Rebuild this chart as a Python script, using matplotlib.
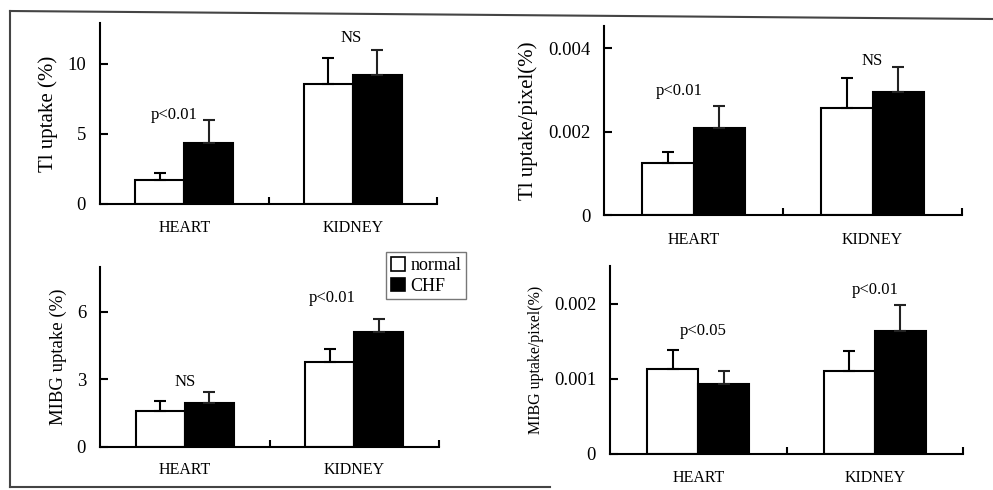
import numpy as np
import matplotlib
matplotlib.use("Agg")
import matplotlib.pyplot as plt
from matplotlib.patches import Patch
from matplotlib.lines import Line2D

plt.rcParams['font.family'] = ['Liberation Serif', 'DejaVu Serif']

# Datos
organos = ['HEART', 'KIDNEY']
grupos = ['normal', 'CHF']

tl_normal = [1.71, 8.55]
tl_normal_sd = [0.53, 1.85]
tl_chf = [4.33, 9.2]
tl_chf_sd = [1.62, 1.75]

tlpix_normal = [0.00124, 0.00256]
tlpix_normal_sd = [0.00028, 0.00073]
tlpix_chf = [0.00208, 0.00295]
tlpix_chf_sd = [0.00053, 0.0006]

mibg_normal = [1.6, 3.75]
mibg_normal_sd = [0.44, 0.58]
mibg_chf = [1.93, 5.11]
mibg_chf_sd = [0.5, 0.58]

mibgpix_normal = [0.00113, 0.0011]
mibgpix_normal_sd = [0.00025, 0.00027]
mibgpix_chf = [0.00093, 0.00164]
mibgpix_chf_sd = [0.00018, 0.00035]

# anotaciones: (texto, x, y)
tl_notas = [('p<0.01', 0.44, 6.36), ('NS', 1.49, 11.86)]
tlpix_notas = [('p<0.01', 0.42, 0.00298), ('NS', 1.5, 0.00369)]
mibg_notas = [('NS', 0.5, 2.89), ('p<0.01', 1.37, 6.6)]
mibgpix_notas = [('p<0.05', 0.53, 0.00164), ('p<0.01', 1.5, 0.00219)]

fig = plt.figure(figsize=(9.93, 4.9), dpi=100)

paneles = [
    # rect, normal, sd, chf, sd, ylim, yticks, ticklabels, ylabel, tamaño etiqueta, notas
    ([0.1007, 0.5837, 0.3394, 0.3694], tl_normal, tl_normal_sd, tl_chf, tl_chf_sd,
     12.9, [0, 5, 10], ['0', '5', '10'], 'Tl uptake (%)', 15, tl_notas),
    ([0.6083, 0.5612, 0.3605, 0.3857], tlpix_normal, tlpix_normal_sd, tlpix_chf, tlpix_chf_sd,
     0.00453, [0, 0.002, 0.004], ['0', '0.002', '0.004'], 'Tl uptake/pixel(%)', 15, tlpix_notas),
    ([0.1007, 0.0884, 0.3414, 0.3673], mibg_normal, mibg_normal_sd, mibg_chf, mibg_chf_sd,
     8.0, [0, 3, 6], ['0', '3', '6'], 'MIBG uptake (%)', 13.5, mibg_notas),
    ([0.6143, 0.0735, 0.3555, 0.3843], mibgpix_normal, mibgpix_normal_sd, mibgpix_chf, mibgpix_chf_sd,
     0.00251, [0, 0.001, 0.002], ['0', '0.001', '0.002'], 'MIBG uptake/pixel(%)', 11.5, mibgpix_notas),
]

centros = np.array([0.5, 1.5])
ancho = 0.29

for rect, vn, sn, vc, sc, ytop, yt, ytl, ylab, lsize, notas in paneles:
    ax = fig.add_axes(rect)
    ax.bar(centros - ancho / 2, vn, ancho, color='white', edgecolor='black', linewidth=1.5,
           yerr=[np.zeros(2), sn], error_kw=dict(ecolor='black', elinewidth=1.5, capsize=4, capthick=1.5))
    ax.bar(centros + ancho / 2, vc, ancho, color='black', edgecolor='black', linewidth=1.5,
           yerr=[np.zeros(2), sc], error_kw=dict(ecolor='#222222', elinewidth=1.5, capsize=4, capthick=1.5))
    ax.set_xlim(0, 2)
    ax.set_ylim(0, ytop)
    ax.set_yticks(yt)
    ax.set_yticklabels(ytl, fontsize=13.5)
    ax.set_xticks([1, 2])
    ax.set_xticklabels([])
    ax.tick_params(axis='x', direction='in', length=5, width=1.5)
    ax.tick_params(axis='y', direction='in', length=6, width=1.5, pad=10)
    for c, nombre in zip(centros, organos):
        ax.text(c, -0.13, nombre, transform=ax.get_xaxis_transform(),
                ha='center', va='center', fontsize=11.5)
    for s in ['top', 'right']:
        ax.spines[s].set_visible(False)
    for s in ['left', 'bottom']:
        ax.spines[s].set_linewidth(1.5)
    ax.set_ylabel(ylab, fontsize=lsize, labelpad=7)
    for texto, x, y in notas:
        ax.text(x, y, texto, ha='center', va='center', fontsize=12)

# Leyenda
manejadores = [Patch(facecolor='white', edgecolor='black', linewidth=1.2, label='normal'),
               Patch(facecolor='black', edgecolor='black', linewidth=1.2, label='CHF')]
fig.legend(handles=manejadores, loc='upper left', bbox_to_anchor=(0.389, 0.485),
           fontsize=13, frameon=True, fancybox=False, edgecolor='#555555',
           handlelength=0.8, handleheight=0.8, handletextpad=0.3, borderpad=0.25,
           labelspacing=0.2, borderaxespad=0)

# Marco de la figura escaneada
fig.add_artist(Line2D([10 / 993, 993 / 993], [1 - 11 / 490, 1 - 19 / 490], color='#444444', lw=1.5))
fig.add_artist(Line2D([10 / 993, 10 / 993], [1 - 11 / 490, 1 - 487 / 490], color='#444444', lw=1.5))
fig.add_artist(Line2D([10 / 993, 550 / 993], [1 - 487 / 490, 1 - 487 / 490], color='#444444', lw=1.5))

fig.savefig('out.png', dpi=100)
